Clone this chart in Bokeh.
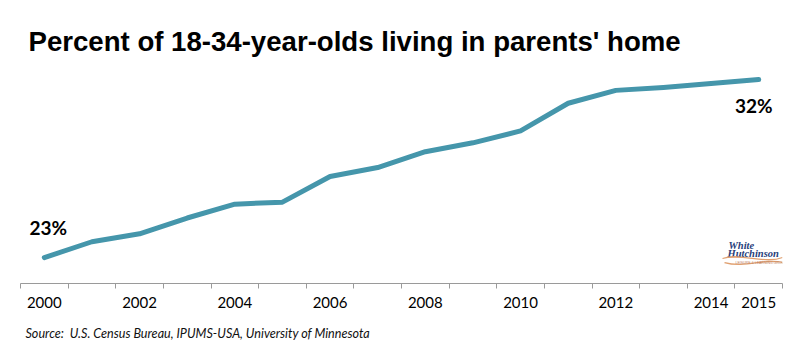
from bokeh.plotting import figure
from bokeh.models import Range1d, FixedTicker, Title, ColumnDataSource
from bokeh.core.properties import value
from bokeh.embed import file_html
from bokeh.resources import INLINE

# ---- data ----
years = [2000, 2001, 2002, 2003, 2004, 2005, 2006, 2007, 2008, 2009, 2010, 2011, 2012, 2013, 2014, 2015]
percent = [23.0, 23.8, 24.2, 25.0, 25.7, 25.8, 27.1, 27.55, 28.35, 28.8, 29.4, 30.8, 31.45, 31.6, 31.8, 32.0]
tick_years = [2000, 2002, 2004, 2006, 2008, 2010, 2012, 2014, 2015]
tick_labels = ["2000", "2002", "2004", "2006", "2008", "2010", "2012", "2014", "2015"]
title_text = "Percent of 18-34-year-olds living in parents' home"
source_text = "Source:\u00a0 U.S. Census Bureau, IPUMS-USA, University of Minnesota"

W, H = 800, 356
LEFT, RIGHT, TOP, BOTTOM = 20, 18, 60, 73
frame_w = W - LEFT - RIGHT
frame_h = H - TOP - BOTTOM

x0, x1 = years[0] - 0.5, years[-1] + 0.5
y0, y1 = 21.69, 32.96

p = figure(width=W, height=H, output_backend="svg", toolbar_location=None,
           x_range=Range1d(x0, x1), y_range=Range1d(y0, y1),
           min_border_left=LEFT, min_border_right=RIGHT,
           min_border_top=TOP, min_border_bottom=BOTTOM,
           background_fill_color="white", border_fill_color="white",
           outline_line_color=None, y_axis_location=None)
p.grid.visible = False

p.title.text = title_text
p.title.align = "left"
p.title.offset = 8
p.title.standoff = 8
p.title.text_font = "Liberation Sans"
p.title.text_font_style = "bold"
p.title.text_font_size = "27.6px"
p.title.text_color = "#000000"

ax = p.xaxis[0]
ax.ticker = FixedTicker(ticks=tick_years,
                        minor_ticks=[y - 0.5 for y in years] + [years[-1] + 0.5])
ax.major_label_overrides = {y: l for y, l in zip(tick_years, tick_labels)}
ax.major_tick_out = 0
ax.major_tick_in = 0
ax.minor_tick_out = 5
ax.minor_tick_in = 0
ax.minor_tick_line_color = "#9a9a9a"
ax.axis_line_color = "#9a9a9a"
ax.axis_line_width = 1.2
ax.major_label_standoff = 8
ax.major_label_text_font = "Lato"
ax.major_label_text_font_size = "15px"
ax.major_label_text_color = "#000000"

p.add_layout(Title(text=source_text, align="left", offset=5, standoff=27,
                   text_font="Lato", text_font_style="italic", text_font_size="12.6px",
                   text_color="#111111"), "below")

src = ColumnDataSource(dict(x=years, y=percent))
p.line("x", "y", source=src, line_color="#4596ab", line_width=5, line_join="round", line_cap="round")

# end labels from data
p.text(x=[years[0]], y=[percent[0]], text=[f"{percent[0]:.0f}%"],
       text_font=value("Lato"), text_font_style="bold", text_font_size="19px",
       text_align="center", text_baseline="alphabetic", x_offset=4, y_offset=-30, text_color="#000000")
p.text(x=[years[-1]], y=[percent[-1]], text=[f"{percent[-1]:.0f}%"],
       text_font=value("Lato"), text_font_style="bold", text_font_size="19px",
       text_align="center", text_baseline="alphabetic", x_offset=-5, y_offset=26, text_color="#000000")

# logo (decoration)
def dx(px):
    return x0 + (px - LEFT) * (x1 - x0) / frame_w

def dy(py):
    return y0 + ((H - BOTTOM) - py) * (y1 - y0) / frame_h

p.text(x=[dx(728), dx(727)], y=[dy(245), dy(253)], text=["White", "Hutchinson"],
       text_font=value("Liberation Serif"), text_font_style="bold italic", text_font_size="10.5px",
       text_color="#27407a", text_baseline="alphabetic")
p.bezier(x0=[dx(722), dx(724)], y0=[dy(258), dy(262)], x1=[dx(782), dx(782)], y1=[dy(257), dy(262)],
         cx0=[dx(740), dx(745)], cy0=[dy(252), dy(268)], cx1=[dx(765), dx(765)], cy1=[dy(264), dy(257)],
         line_color="#e0a070", line_width=1.3)
p.text(x=[dx(735)], y=[dy(262)], text=["LEISURE & LEARNING GROUP"],
       text_font=value("Liberation Sans"), text_font_size="3.5px", text_color="#c08060",
       text_baseline="alphabetic")

open("out.html", "w").write(file_html(p, INLINE))
